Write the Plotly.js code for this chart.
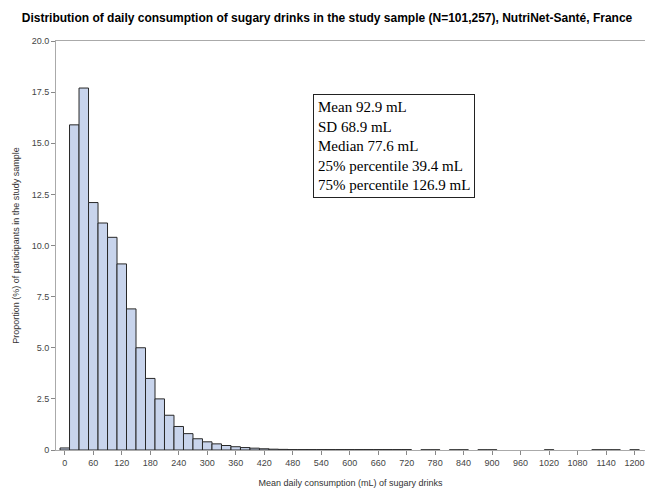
<!DOCTYPE html>
<html>
<head>
<meta charset="utf-8">
<script src="https://cdn.plot.ly/plotly-3.0.1.min.js"></script>
<style>html,body{margin:0;padding:0;background:#fff}#chart{width:645px;height:493px}</style>
</head>
<body>
<div id="chart"></div>
<script>
// Bin midpoints (mL), bin width 20 mL
const binCenters = [
  0,20,40,60,80,100,120,140,160,180,200,220,240,260,280,300,320,340,360,380,
  400,420,440,460,480,500,520,540,560,580,600,620,640,660,680,700,720,740,760,780,
  800,820,840,860,880,900,920,940,960,980,1000,1020,1040,1060,1080,1100,1120,1140,1160,1180,1200
];
// Proportion (%) of participants
const proportions = [
  0.1,15.9,17.7,12.1,11.1,10.4,9.1,6.9,5.0,3.5,2.5,1.7,1.15,0.8,0.55,0.4,0.3,0.22,0.16,0.12,
  0.09,0.06,0.04,0.03,0.02,0.02,0.02,0.02,0.02,0.02,0.02,0.02,0.02,0.02,0.02,0.02,0.02,null,0.01,0.01,
  null,0.01,0.01,null,0.01,0.01,null,null,null,null,null,0.01,null,null,null,null,0.01,0.01,0.01,null,0.01
];
const xTicks = [0,60,120,180,240,300,360,420,480,540,600,660,720,780,840,900,960,1020,1080,1140,1200];
const yTicks = [0,2.5,5,7.5,10,12.5,15,17.5,20];
const yTickText = ['0','2.5','5.0','7.5','10.0','12.5','15.0','17.5','20.0'];
const statsLines = ['Mean 92.9 mL','SD 68.9 mL','Median 77.6 mL','25% percentile 39.4 mL','75% percentile 126.9 mL'];

const trace = {
  type: 'bar',
  x: binCenters,
  y: proportions,
  width: 20,
  marker: {color: 'rgb(200,212,236)', line: {color: 'rgb(40,40,40)', width: 1}},
  hoverinfo: 'x+y'
};

const layout = {
  width: 645, height: 493,
  margin: {l: 56, r: 0, t: 41, b: 43},
  paper_bgcolor: '#fff', plot_bgcolor: '#fff',
  showlegend: false,
  bargap: 0,
  title: {
    text: 'Distribution of daily consumption of sugary drinks in the study sample (N=101,257), NutriNet-Santé, France',
    font: {family: 'Liberation Sans, Arial, sans-serif', size: 12, color: '#000', weight: 'bold'},
    x: 0.507, xref: 'container', y: 0.972, yref: 'container', xanchor: 'center'
  },
  xaxis: {
    range: [-18.5, 1222],
    tickvals: xTicks,
    ticks: 'outside', ticklen: 4, tickcolor: '#888',
    tickfont: {family: 'Liberation Sans, Arial, sans-serif', size: 9, color: '#444'},
    showgrid: false, zeroline: false,
    showline: true, linecolor: '#aaa', linewidth: 1, mirror: true,
    title: {text: 'Mean daily consumption (mL) of sugary drinks', standoff: 12,
      font: {family: 'Liberation Sans, Arial, sans-serif', size: 9, color: '#333'}}
  },
  yaxis: {
    range: [0, 20],
    tickvals: yTicks, ticktext: yTickText,
    ticks: 'outside', ticklen: 4, tickcolor: '#888',
    tickfont: {family: 'Liberation Sans, Arial, sans-serif', size: 9, color: '#444'},
    showgrid: false, zeroline: false,
    showline: true, linecolor: '#aaa', linewidth: 1,
    title: {text: 'Proportion (%) of participants in the study sample', standoff: 10,
      font: {family: 'Liberation Sans, Arial, sans-serif', size: 9, color: '#333'}}
  },
  annotations: [{
    xref: 'paper', yref: 'paper',
    x: 0.436, y: 0.871, xanchor: 'left', yanchor: 'top',
    text: statsLines.join('<br>'),
    align: 'left', showarrow: false,
    font: {family: 'Liberation Serif, Times New Roman, serif', size: 15, color: '#000'},
    bordercolor: '#222', borderwidth: 1, borderpad: 4, bgcolor: '#fff'
  }]
};

Plotly.newPlot('chart', [trace], layout, {displayModeBar: false, staticPlot: true});
</script>
</body>
</html>
